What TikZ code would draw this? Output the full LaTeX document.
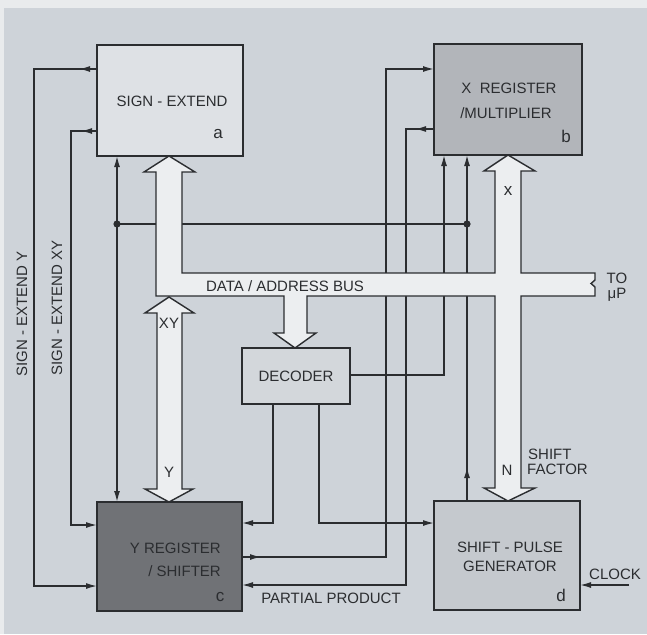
\documentclass[tikz,border=0pt]{standalone}
\usepackage{fontspec}
\setmainfont{Liberation Sans}
\usetikzlibrary{arrows.meta}
\definecolor{bg}{HTML}{CED3D9}
\definecolor{paper}{HTML}{E9EBED}
\definecolor{ink}{HTML}{2B2D30}
\definecolor{boxa}{HTML}{DEE1E5}
\definecolor{boxb}{HTML}{B2B5BA}
\definecolor{boxc}{HTML}{707276}
\definecolor{boxd}{HTML}{C5C9CE}
\definecolor{boxdec}{HTML}{D3D7DB}
\definecolor{busc}{HTML}{ECEEF0}
\begin{document}
\begin{tikzpicture}[x=1pt,y=-1pt,
  wire/.style={line width=1.4pt, draw=ink},
  arr/.style={-{Latex[length=11pt,width=6pt]}},
  box/.style={draw=ink,line width=1.8pt,inner sep=0pt,outer sep=0pt},
  lbl/.style={font=\fontsize{15}{17}\selectfont, text=ink, inner sep=0pt},
  tag/.style={font=\fontsize{17}{19}\selectfont, text=ink, inner sep=0pt},
  busfill/.style={fill=busc, draw=ink, line width=1.4pt, line join=miter}]

\useasboundingbox (0,0) rectangle (647,634);
\fill[paper] (0,0) rectangle (647,634);
\fill[bg] (4,8) rectangle (647,634);

% boxes
\node[box,fill=boxa,minimum width=146pt,minimum height=111pt] (a) at (170,100.5) {};
\node[box,fill=boxb,minimum width=148pt,minimum height=111pt] (b) at (508,99.5) {};
\node[box,fill=boxc,minimum width=145pt,minimum height=109pt] (c) at (169.5,556.5) {};
\node[box,fill=boxd,minimum width=146pt,minimum height=109pt] (d) at (507,555.5) {};
\node[box,fill=boxdec,minimum width=108pt,minimum height=56pt] (dec) at (296,376) {};

% box texts
\node[lbl] (ta) at (172,101) {SIGN - EXTEND};
\node[tag] (la) at (218,134) {a};
\node[lbl] (tb1) at (509,88) {X\ \ REGISTER};
\node[lbl] (tb2) at (506,113) {/MULTIPLIER};
\node[tag] (lb) at (566,136) {b};
\node[lbl,anchor=east] (tc1) at (221,548) {Y REGISTER};
\node[lbl,anchor=east] (tc2) at (221,571) {/ SHIFTER};
\node[tag] (lc) at (220,597) {c};
\node[lbl] (td1) at (510,547) {SHIFT - PULSE};
\node[lbl] (td2) at (510,566) {GENERATOR};
\node[tag] (ld) at (561,595) {d};
\node[lbl] (tdec) at (296,376) {DECODER};

% wires
\draw[wire,arr] (a.west|-0,69) -- (34,69) -- (34,586) -- (c.west|-0,586);
\draw[wire,arr] (a.west|-0,69) -- (79,69);
\draw[wire,arr] (a.west|-0,131) -- (71,131) -- (71,525) -- (c.west|-0,525);
\draw[wire,arr] (a.west|-0,131) -- (81,131);

\coordinate (j1) at (117,224);
\coordinate (j2) at (467,224);
\draw[wire,arr] (j1) -- (j1|-a.south);
\draw[wire,arr] (j1) -- (j1|-c.north);
\draw[wire] (j1) -- (j2);
\draw[wire,arr] (j2|-d.north) -- (j2|-b.south);
\draw[wire,arr] (j2|-d.north) -- (467,467);
\fill[ink] (j1) circle (3.6pt);
\fill[ink] (j2) circle (3.6pt);

\draw[wire,arr] (dec.east|-0,375) -- (444,375) -- (b.south-|444,0);
\draw[wire,arr] (dec.south-|273,0) -- (273,523) -- (c.east|-0,523);
\draw[wire,arr] (dec.south-|319,0) -- (319,523) -- (d.west|-0,523);

\draw[wire,arr] (c.east|-0,557) -- (386,557) -- (386,69) -- (b.west|-0,69);
\draw[wire,arr] (c.east|-0,557) -- (261,557);
\draw[wire,arr] (b.west|-0,129) -- (406,129) -- (406,585) -- (c.east|-0,585);
\draw[wire,arr] (b.west|-0,129) -- (415,129);

\coordinate (clk) at (629,585);
\draw[wire,arr] (clk) -- (d.east|-clk);

% data/address bus
\draw[busfill] (169,156) -- (195,172) -- (182,172) -- (182,273) -- (495,273)
  -- (495,171) -- (484,171) -- (508,155) -- (535,171) -- (521,171) -- (521,273)
  -- (595,273) -- (595,280) -- (591,283.5) -- (595,287) -- (595,296)
  -- (521,296) -- (521,488) -- (535,488) -- (508,501) -- (484,488) -- (495,488)
  -- (495,296) -- (307,296) -- (307,333) -- (316,333) -- (295,348) -- (274,333)
  -- (284,333) -- (284,296) -- (156,296) -- (156,172) -- (144,172) -- cycle;
% XY / Y double arrow
\draw[busfill] (169,297) -- (194,313) -- (182,313) -- (182,489) -- (193,489)
  -- (169,502) -- (145,489) -- (157,489) -- (157,313) -- (145,313) -- cycle;

% labels
\node[lbl] (tbus) at (285,286) {DATA / ADDRESS BUS};
\node[lbl] (txy) at (169,323) {XY};
\node[lbl] (ty) at (169,472) {Y};
\node[tag] (tx) at (508,191) {x};
\node[lbl] (tn) at (507,470) {N};
\node[lbl,anchor=west] (tsh1) at (528,454) {SHIFT};
\node[lbl,anchor=west] (tsh2) at (527,469) {FACTOR};
\node[lbl] (tpp) at (331,598) {PARTIAL PRODUCT};
\node[lbl] (tclk) at (615,574) {CLOCK};
\node[lbl] (tto) at (617,278) {TO};
\node[lbl] (tmup) at (617,295) {μP};
\node[lbl,rotate=90] (tsey) at (22,314) {SIGN - EXTEND Y};
\node[lbl,rotate=90] (tsexy) at (57,308) {SIGN - EXTEND XY};
\end{tikzpicture}
\end{document}
